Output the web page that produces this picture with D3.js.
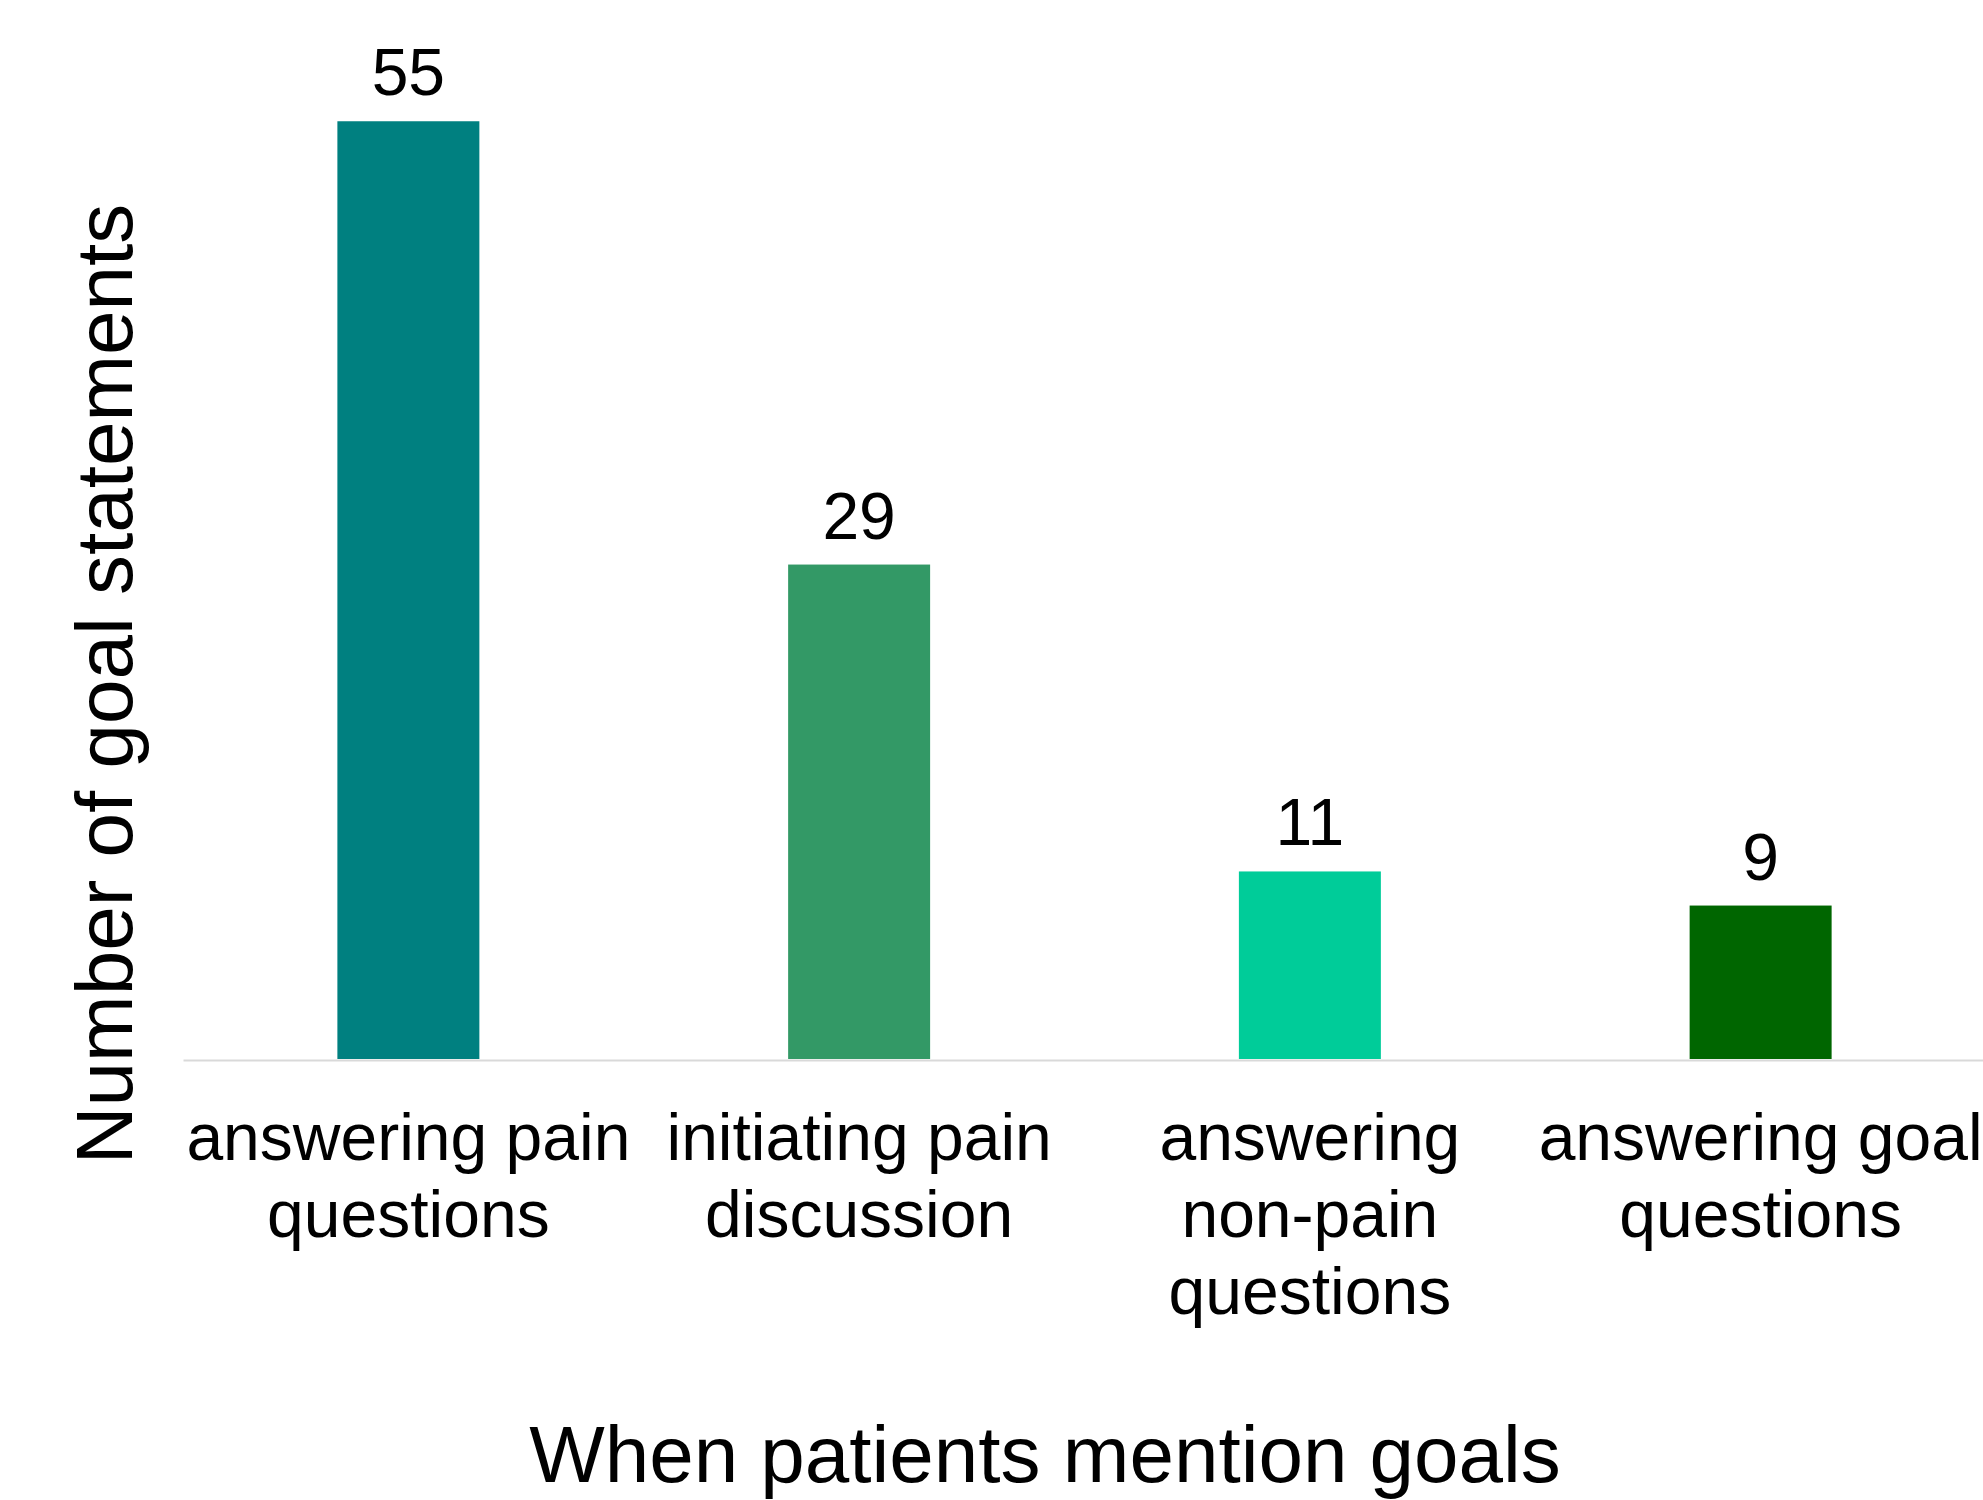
<!DOCTYPE html>
<html>
<head>
<meta charset="utf-8">
<script src="https://cdn.jsdelivr.net/npm/d3@7"></script>
<style>
  body { margin: 0; background: #fff; }
  text { font-family: "Liberation Sans", Arial, sans-serif; fill: #000; }
</style>
</head>
<body>
<div id="chart"></div>
<script>
// data
const categories = [
  "answering pain\nquestions",
  "initiating pain\ndiscussion",
  "answering\nnon-pain\nquestions",
  "answering goal\nquestions"
];
const counts = [55, 29, 11, 9];
const barColors = ["#008080", "#339966", "#00cc99", "#006600"];
const xTitle = "When patients mention goals";
const yTitle = "Number of goal statements";

const width = 1983,
  height = 1500,
  margin = { top: 36, bottom: 441, left: 183, right: -3 };

const svg = d3.select("#chart")
  .append("svg")
  .attr("width", width)
  .attr("height", height);

const xScale = d3.scaleBand()
  .domain(categories)
  .range([margin.left, width - margin.right])
  .paddingInner(0.685)
  .paddingOuter(0.3425);

const yScale = d3.scaleLinear()
  .domain([0, 60])
  .range([height - margin.bottom, margin.top]);

// bars
svg.selectAll("rect.bar")
  .data(counts)
  .join("rect")
  .attr("class", "bar")
  .attr("x", (d, i) => xScale(categories[i]))
  .attr("y", d => yScale(d))
  .attr("width", xScale.bandwidth())
  .attr("height", d => yScale(0) - yScale(d))
  .attr("fill", (d, i) => barColors[i]);

// value labels
svg.selectAll("text.value")
  .data(counts)
  .join("text")
  .attr("class", "value")
  .attr("x", (d, i) => xScale(categories[i]) + xScale.bandwidth() / 2)
  .attr("y", d => yScale(d) - 26)
  .attr("text-anchor", "middle")
  .attr("font-size", 66)
  .text(d => d);

// x axis
const xAxis = d3.axisBottom(xScale).tickSize(0).tickSizeOuter(0);
const xAxisGroup = svg.append("g")
  .attr("class", "xAxis")
  .attr("transform", `translate(0, ${yScale(0) + 1})`)
  .call(xAxis);

xAxisGroup.select(".domain")
  .attr("stroke", "#d9d9d9")
  .attr("stroke-width", 2);

xAxisGroup.selectAll(".tick text").remove();
xAxisGroup.selectAll(".tick")
  .append("text")
  .attr("text-anchor", "middle")
  .attr("font-size", 66)
  .attr("fill", "#000")
  .each(function(d) {
    const t = d3.select(this);
    d.split("\n").forEach((line, i) => {
      t.append("tspan")
        .attr("x", 0)
        .attr("y", 100 + i * 77)
        .text(line);
    });
  });

// axis titles
svg.append("text")
  .attr("class", "xAxisTitle")
  .attr("x", 1045)
  .attr("y", 1482)
  .attr("text-anchor", "middle")
  .attr("font-size", 80)
  .text(xTitle);

svg.append("text")
  .attr("class", "yAxisTitle")
  .attr("transform", `translate(${132}, ${684})rotate(-90)`)
  .attr("text-anchor", "middle")
  .attr("font-size", 80)
  .text(yTitle);
</script>
</body>
</html>
